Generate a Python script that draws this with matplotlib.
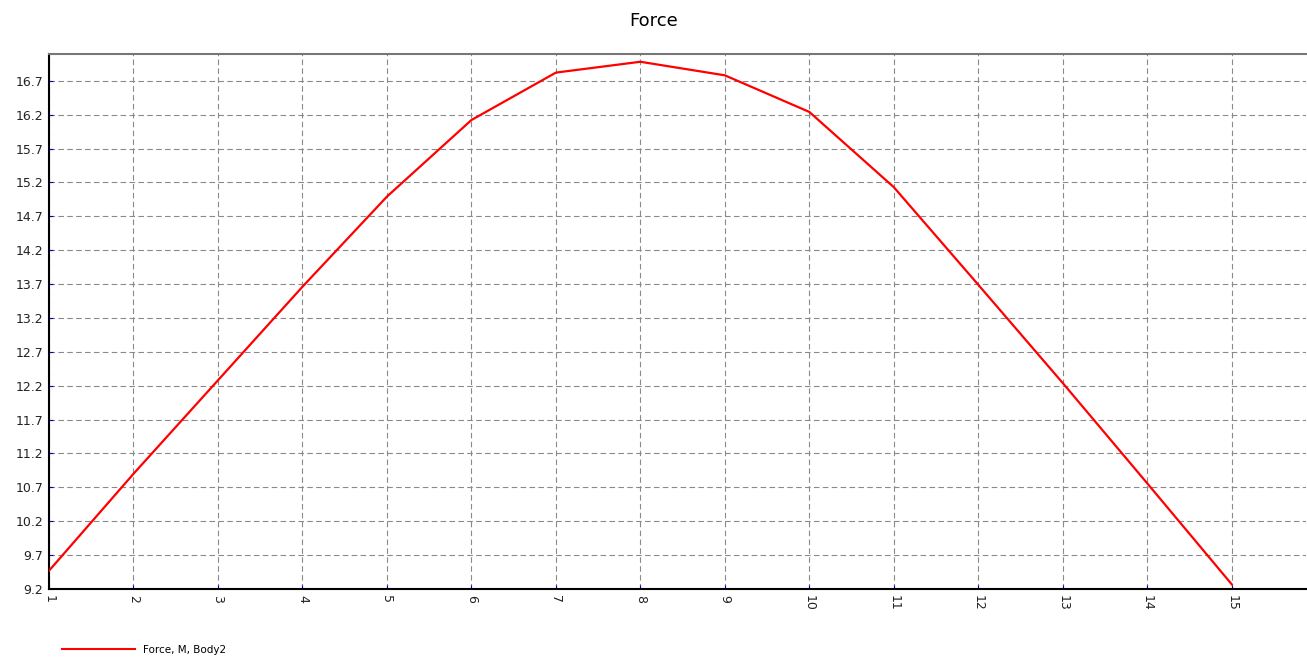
import matplotlib.pyplot as plt
from matplotlib.lines import Line2D

# dados
passos = list(range(1, 16))
forca = [9.47, 10.90, 12.28, 13.66, 14.99, 16.12, 16.82, 16.98,
         16.78, 16.24, 15.13, 13.69, 12.24, 10.76, 9.27]
ticks_y = [9.2, 9.7, 10.2, 10.7, 11.2, 11.7, 12.2, 12.7, 13.2,
           13.7, 14.2, 14.7, 15.2, 15.7, 16.2, 16.7]
rotulo_serie = "Force, M, Body2"

fig = plt.figure(figsize=(13.07, 6.59), dpi=100)
ax = fig.add_axes([0.0375, 0.1062, 0.9615, 0.8118])

ax.plot(passos, forca, color="#ff0000", linewidth=1.6, zorder=3)

ax.set_xlim(1, 15.876)
ax.set_ylim(9.2, 17.094)
ax.set_xticks(passos)
ax.set_xticklabels([str(p) for p in passos], rotation=-90)
ax.set_yticks(ticks_y)
ax.set_yticklabels([f"{v:.1f}" for v in ticks_y])
ax.tick_params(axis="both", direction="in", length=3, color="#0000cc",
               labelsize=9, pad=4, labelcolor="#222222")

ax.grid(True, color="#8a8a8a", linestyle=(0, (5, 3)), linewidth=0.8)
ax.spines["right"].set_visible(False)
ax.spines["top"].set_color("#777777")
ax.spines["top"].set_linewidth(1.5)
ax.spines["left"].set_linewidth(1.5)
ax.spines["bottom"].set_linewidth(1.5)

fig.text(0.5, 0.968, "Force", ha="center", va="center", fontsize=13)

linha = Line2D([], [], color="#ff0000", linewidth=1.5)
fig.legend([linha], [rotulo_serie], loc="center left",
           bbox_to_anchor=(0.04, 0.014), frameon=False, fontsize=7.5,
           handlelength=7)

fig.savefig("out.png", dpi=100)
